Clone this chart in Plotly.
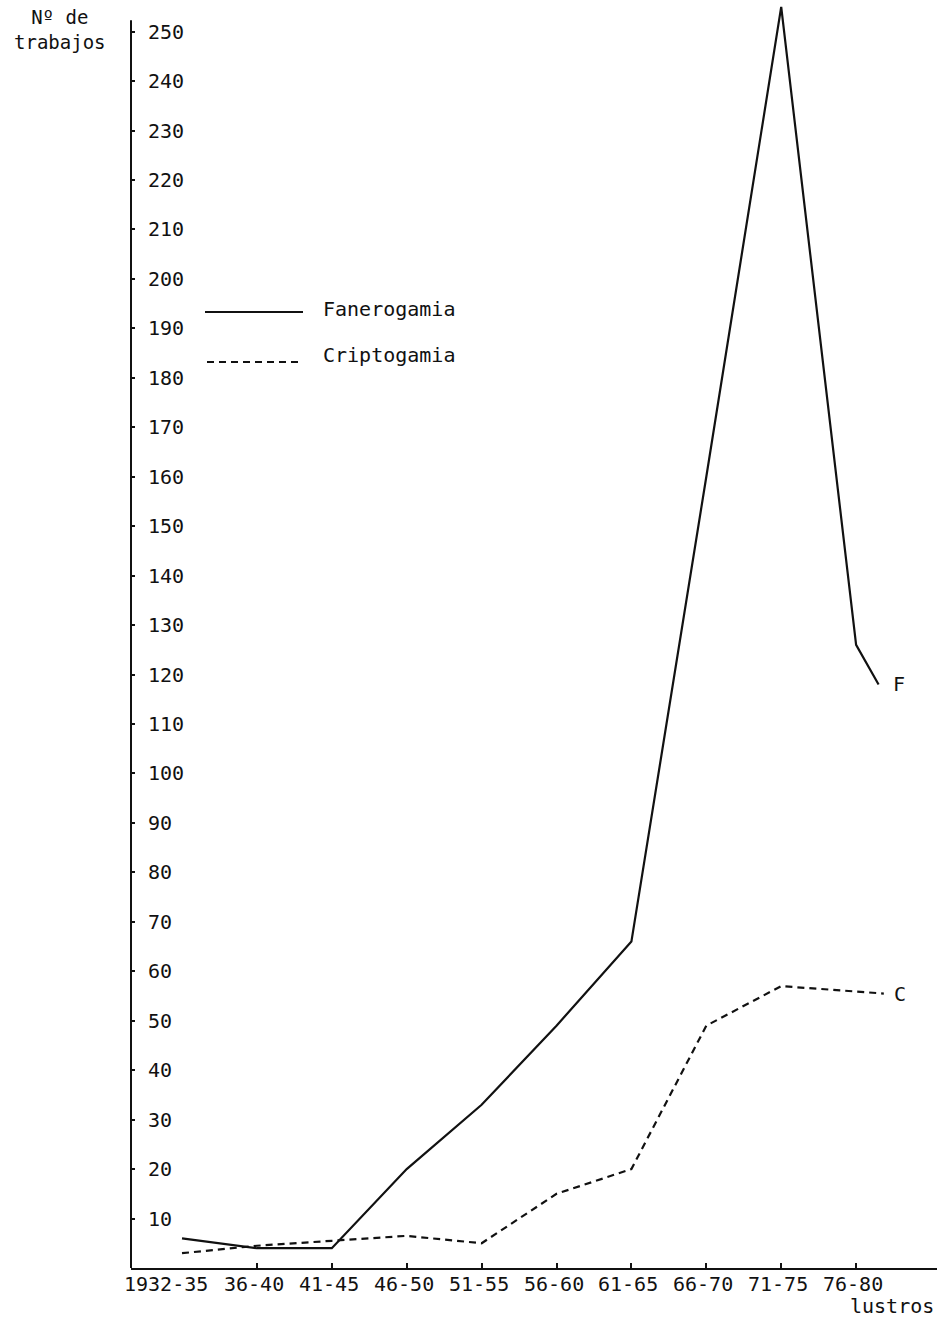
import plotly.graph_objects as go

# Lustros (five-year periods) on the horizontal axis
periodos = ["1932-35", "36-40", "41-45", "46-50", "51-55",
            "56-60", "61-65", "66-70", "71-75", "76-80"]

# Number of papers per lustro
fanerogamia = [6, 4, 4, 20, 33, 49, 66, 160, 255, 126]
criptogamia = [3, 4.5, 5.5, 6.5, 5, 15, 20, 49, 57, 56]

# Short trailing stretch past the last lustro, ending at the series letters
cola_fanerogamia_x, cola_fanerogamia_y = 9.3, 118
cola_criptogamia_x, cola_criptogamia_y = 9.37, 55.5

y_ticks = list(range(10, 260, 10))

FONT = "DejaVu Sans Mono"
INK = "#111111"
FS = 20

x_pos = list(range(len(periodos)))

fig = go.Figure()

fig.add_trace(go.Scatter(
    x=x_pos + [cola_fanerogamia_x],
    y=fanerogamia + [cola_fanerogamia_y],
    mode="lines",
    line=dict(color=INK, width=2.2),
    name="Fanerogamia",
    showlegend=False,
))

fig.add_trace(go.Scatter(
    x=x_pos + [cola_criptogamia_x],
    y=criptogamia + [cola_criptogamia_y],
    mode="lines",
    line=dict(color=INK, width=2.2, dash="7px,5px"),
    name="Criptogamia",
    showlegend=False,
))

# Series letters at the line ends
fig.add_annotation(x=cola_fanerogamia_x, y=cola_fanerogamia_y, text="F",
                   showarrow=False, xanchor="left", yanchor="middle",
                   xshift=12, font=dict(family=FONT, size=FS, color=INK))
fig.add_annotation(x=cola_criptogamia_x, y=cola_criptogamia_y, text="C",
                   showarrow=False, xanchor="left", yanchor="middle",
                   xshift=8, font=dict(family=FONT, size=FS, color=INK))

# Period labels under the ticks (the first one sits left of its tick)
for i, lab in enumerate(periodos):
    fig.add_annotation(x=i, xref="x", y=0, yref="paper", text=lab,
                       showarrow=False, xanchor="center", yanchor="top",
                       xshift=-16 if i == 0 else -3, yshift=-3,
                       borderpad=0,
                       font=dict(family=FONT, size=FS, color=INK))

# Vertical axis line (stops just above the 250 mark)
fig.add_shape(type="line", xref="paper", yref="y",
              x0=0, x1=0, y0=0, y1=252.3,
              line=dict(color=INK, width=2))

# Hand-made key
fig.add_shape(type="line", xref="paper", yref="paper",
              x0=(205 - 131) / 806, x1=(303 - 131) / 806,
              y0=(1268 - 312) / 1268, y1=(1268 - 312) / 1268,
              line=dict(color=INK, width=2))
fig.add_shape(type="line", xref="paper", yref="paper",
              x0=(207 - 131) / 806, x1=(302 - 131) / 806,
              y0=(1268 - 362) / 1268, y1=(1268 - 362) / 1268,
              line=dict(color=INK, width=2, dash="7px,5px"))
fig.add_annotation(xref="paper", yref="paper",
                   x=(321 - 131) / 806, y=(1268 - 309) / 1268,
                   text="Fanerogamia", showarrow=False,
                   xanchor="left", yanchor="middle",
                   font=dict(family=FONT, size=FS, color=INK))
fig.add_annotation(xref="paper", yref="paper",
                   x=(321 - 131) / 806, y=(1268 - 355) / 1268,
                   text="Criptogamia", showarrow=False,
                   xanchor="left", yanchor="middle",
                   font=dict(family=FONT, size=FS, color=INK))

# Axis titles
fig.add_annotation(xref="paper", yref="paper",
                   x=(60 - 131) / 806, y=(1268 - 30) / 1268,
                   text="Nº de<br>trabajos", showarrow=False,
                   xanchor="center", yanchor="middle", align="center",
                   font=dict(family=FONT, size=19, color=INK))
fig.add_annotation(xref="paper", yref="paper",
                   x=1.0, y=(1268 - 1320) / 1268,
                   text="lustros", showarrow=False,
                   xanchor="right", yanchor="bottom", xshift=-2, yshift=1,
                   borderpad=0,
                   font=dict(family=FONT, size=FS, color=INK))

fig.update_layout(
    width=937, height=1320,
    margin=dict(l=131, r=0, t=0, b=52),
    paper_bgcolor="white", plot_bgcolor="white",
    showlegend=False,
    xaxis=dict(
        range=[-0.681, 10.08],
        tickmode="array", tickvals=x_pos,
        showticklabels=False,
        ticks="inside", ticklen=5, tickwidth=1.5, tickcolor=INK,
        showline=True, linecolor=INK, linewidth=2,
        showgrid=False, zeroline=False,
    ),
    yaxis=dict(
        range=[0, 256.4],
        tickmode="array", tickvals=y_ticks,
        ticks="inside", ticklen=4, tickwidth=1.5, tickcolor=INK,
        ticklabelposition="inside", ticklabelstandoff=14,
        showline=False, showgrid=False, zeroline=False,
        tickfont=dict(family=FONT, size=FS, color=INK),
    ),
)

fig.write_html("out.html")
